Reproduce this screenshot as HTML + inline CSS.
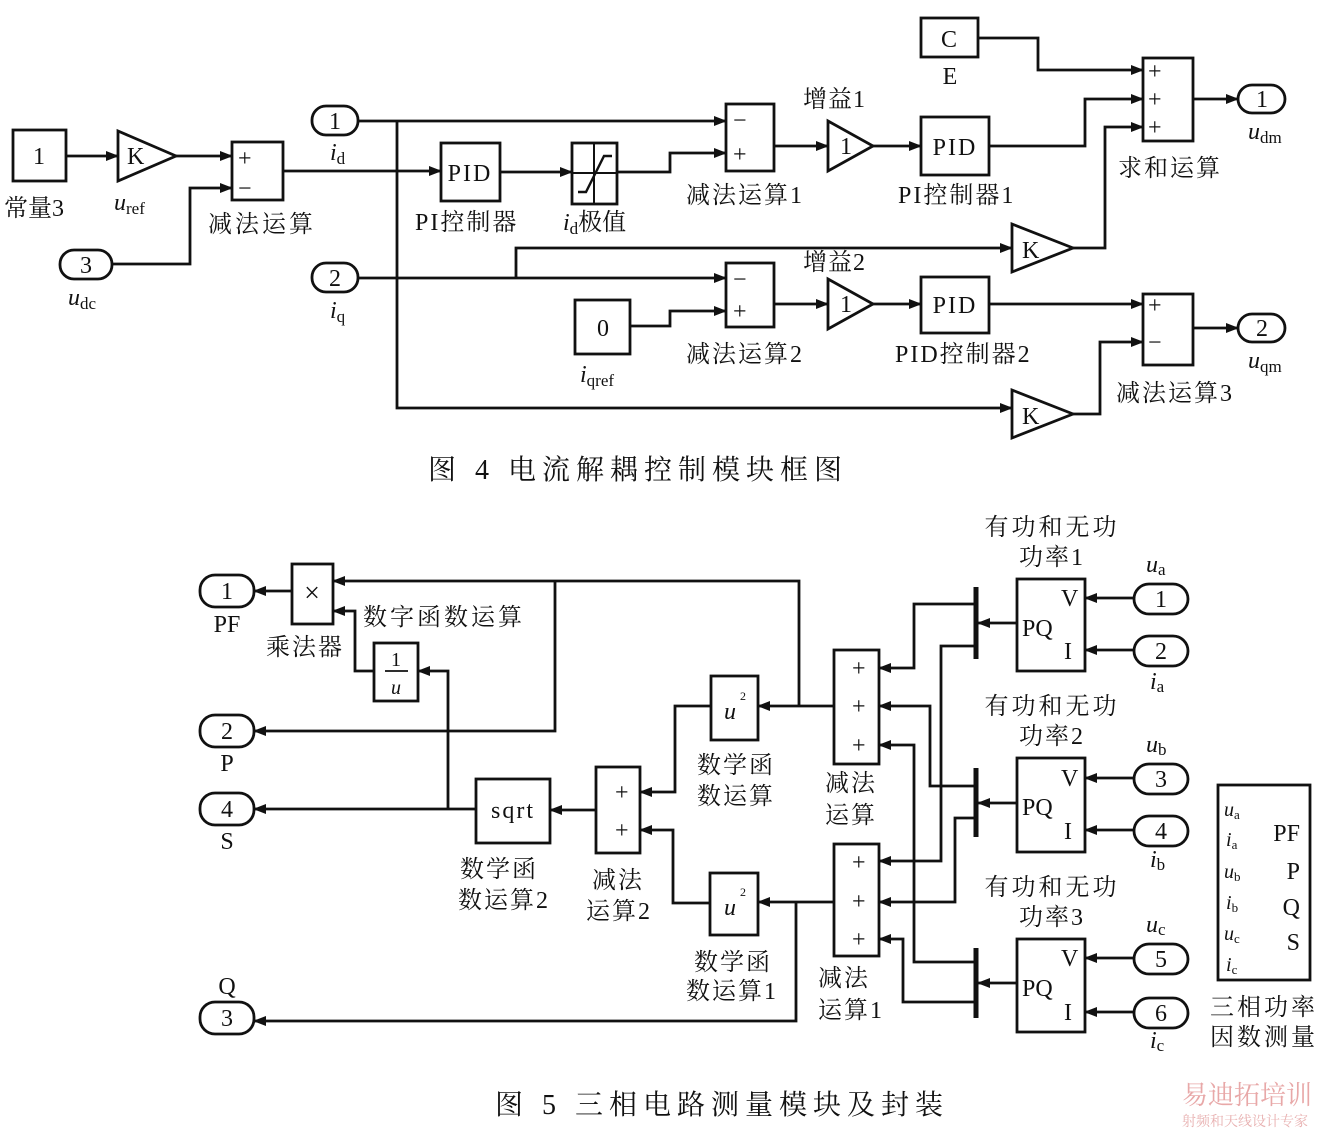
<!DOCTYPE html>
<html><head><meta charset="utf-8"><style>
html,body{margin:0;padding:0;background:#fff;}
svg{display:block;}
text{font-family:"Liberation Serif","Noto Serif CJK SC",serif;fill:#111;}
.c{font-family:"Liberation Serif","Noto Serif CJK SC",serif;font-size:24px;}
</style></head><body>
<svg width="1334" height="1132" viewBox="0 0 1334 1132" xmlns="http://www.w3.org/2000/svg">
<defs>
<marker id="a" markerUnits="userSpaceOnUse" markerWidth="13" markerHeight="10" refX="12" refY="5" orient="auto"><path d="M0,0 L13,5 L0,10 z" fill="#111"/></marker>
</defs>
<g fill="none" stroke="#111" stroke-width="2.8">
<rect x="13" y="130" width="53" height="51"/>
<path d="M118,131 L176,156 L118,181 z"/>
<rect x="232" y="142" width="51" height="58"/>
<rect x="60" y="250" width="52" height="29" rx="14"/>
<rect x="312" y="106" width="46" height="29" rx="14"/>
<rect x="312" y="263" width="46" height="29" rx="14"/>
<rect x="441" y="143" width="59" height="58"/>
<rect x="572" y="143" width="45" height="61"/>
<path d="M594,143 V204 M572,173 H617" stroke-width="2"/>
<path d="M578,192 H586 L604,156 H612" stroke-width="2.4"/>
<rect x="726" y="104" width="48" height="67"/>
<path d="M828,121 L873,146 L828,171 z"/>
<rect x="921" y="117" width="68" height="58"/>
<rect x="921" y="18" width="57" height="39"/>
<rect x="1143" y="58" width="50" height="83"/>
<rect x="1238" y="85" width="47" height="28" rx="14"/>
<path d="M1012,224 L1073,248 L1012,272 z"/>
<rect x="726" y="263" width="48" height="64"/>
<rect x="575" y="300" width="55" height="54"/>
<path d="M828,279 L873,304 L828,329 z"/>
<rect x="921" y="277" width="68" height="56"/>
<rect x="1143" y="294" width="50" height="71"/>
<rect x="1238" y="314" width="47" height="28" rx="14"/>
<path d="M1012,390 L1073,414 L1012,438 z"/>
<path marker-end="url(#a)" d="M66,156 H118"/>
<path marker-end="url(#a)" d="M176,156 H232"/>
<path marker-end="url(#a)" d="M112,264 H190 V188 H232"/>
<path marker-end="url(#a)" d="M283,171 H441"/>
<path marker-end="url(#a)" d="M358,121 H726"/>
<path marker-end="url(#a)" d="M397,121 V408 H1012"/>
<path marker-end="url(#a)" d="M358,278 H726"/>
<path marker-end="url(#a)" d="M516,278 V248 H1012"/>
<path marker-end="url(#a)" d="M500,172 H572"/>
<path marker-end="url(#a)" d="M617,172 H670 V153 H726"/>
<path marker-end="url(#a)" d="M774,146 H828"/>
<path marker-end="url(#a)" d="M873,146 H921"/>
<path marker-end="url(#a)" d="M989,146 H1085 V99 H1143"/>
<path marker-end="url(#a)" d="M978,38 H1038 V70 H1143"/>
<path marker-end="url(#a)" d="M1073,248 H1105 V127 H1143"/>
<path marker-end="url(#a)" d="M1193,99 H1238"/>
<path marker-end="url(#a)" d="M630,326 H670 V311 H726"/>
<path marker-end="url(#a)" d="M774,304 H828"/>
<path marker-end="url(#a)" d="M873,304 H921"/>
<path marker-end="url(#a)" d="M989,304 H1143"/>
<path marker-end="url(#a)" d="M1073,414 H1100 V342 H1143"/>
<path marker-end="url(#a)" d="M1193,328 H1238"/>

<rect x="200" y="575" width="54" height="32" rx="15"/>
<rect x="200" y="715" width="54" height="32" rx="15"/>
<rect x="200" y="793" width="54" height="32" rx="15"/>
<rect x="200" y="1002" width="54" height="32" rx="15"/>
<rect x="292" y="564" width="41" height="60"/>
<rect x="374" y="643" width="44" height="58"/>
<path d="M385,671 H408" stroke-width="1.8"/>
<rect x="476" y="779" width="74" height="64"/>
<rect x="596" y="767" width="44" height="86"/>
<rect x="711" y="676" width="47" height="64"/>
<rect x="710" y="873" width="48" height="62"/>
<rect x="834" y="650" width="45" height="114"/>
<rect x="834" y="844" width="45" height="112"/>
<rect x="1017" y="579" width="68" height="92"/>
<rect x="1017" y="758" width="68" height="94"/>
<rect x="1017" y="939" width="68" height="93"/>
<rect x="1134" y="584" width="54" height="30" rx="15"/>
<rect x="1134" y="636" width="54" height="30" rx="15"/>
<rect x="1134" y="764" width="54" height="30" rx="15"/>
<rect x="1134" y="816" width="54" height="30" rx="15"/>
<rect x="1134" y="944" width="54" height="30" rx="15"/>
<rect x="1134" y="998" width="54" height="30" rx="15"/>
<rect x="1218" y="785" width="92" height="195"/>
<path d="M976,587 V659 M976,768 V837 M976,948 V1018" stroke-width="5"/>
<path marker-end="url(#a)" d="M292,591 H254"/>
<path marker-end="url(#a)" d="M799,706 V581 H333"/>
<path marker-end="url(#a)" d="M555,581 V731 H254"/>
<path marker-end="url(#a)" d="M374,671 H355 V611 H333"/>
<path marker-end="url(#a)" d="M448,809 V671 H418"/>
<path marker-end="url(#a)" d="M476,809 H254"/>
<path marker-end="url(#a)" d="M596,810 H550"/>
<path marker-end="url(#a)" d="M711,706 H675 V792 H640"/>
<path marker-end="url(#a)" d="M710,903 H673 V830 H640"/>
<path marker-end="url(#a)" d="M834,706 H758"/>
<path marker-end="url(#a)" d="M834,902 H758"/>
<path marker-end="url(#a)" d="M796,903 V1021 H254"/>
<path marker-end="url(#a)" d="M974,604 H914 V668 H879"/>
<path marker-end="url(#a)" d="M974,646 H941 V861 H879"/>
<path marker-end="url(#a)" d="M974,786 H930 V706 H879"/>
<path marker-end="url(#a)" d="M974,818 H955 V902 H879"/>
<path marker-end="url(#a)" d="M974,962 H914 V745 H879"/>
<path marker-end="url(#a)" d="M974,1002 H903 V939 H879"/>
<path marker-end="url(#a)" d="M1017,623 H978"/>
<path marker-end="url(#a)" d="M1017,803 H978"/>
<path marker-end="url(#a)" d="M1017,983 H978"/>
<path marker-end="url(#a)" d="M1134,598 H1085"/>
<path marker-end="url(#a)" d="M1134,650 H1085"/>
<path marker-end="url(#a)" d="M1134,778 H1085"/>
<path marker-end="url(#a)" d="M1134,830 H1085"/>
<path marker-end="url(#a)" d="M1134,958 H1085"/>
<path marker-end="url(#a)" d="M1134,1012 H1085"/>
</g>

<g class="c" font-size="24">
<text x="39" y="164" text-anchor="middle">1</text>
<text x="4" y="216">常量3</text>
<text x="127" y="164">K</text>
<text x="114" y="210" font-style="italic">u<tspan font-style="normal" font-size="17" dy="4">ref</tspan></text>
<text x="238" y="166" font-size="24">+</text>
<text x="238" y="196" font-size="24">−</text>
<text x="208" y="232" letter-spacing="3">减法运算</text>
<text x="86" y="273" text-anchor="middle">3</text>
<text x="68" y="305" font-style="italic">u<tspan font-style="normal" font-size="17" dy="4">dc</tspan></text>
<text x="335" y="129" text-anchor="middle">1</text>
<text x="330" y="160" font-style="italic">i<tspan font-style="normal" font-size="17" dy="4">d</tspan></text>
<text x="335" y="286" text-anchor="middle">2</text>
<text x="330" y="318" font-style="italic">i<tspan font-style="normal" font-size="17" dy="4">q</tspan></text>
<text x="470" y="181" text-anchor="middle" letter-spacing="2">PID</text>
<text x="415" y="230" letter-spacing="2">PI控制器</text>
<text x="563" y="230" font-style="italic">i<tspan font-style="normal" font-size="17" dy="4">d</tspan><tspan dy="-4" font-style="normal">极值</tspan></text>
<text x="733" y="128" font-size="24">−</text>
<text x="733" y="162" font-size="24">+</text>
<text x="686" y="203" letter-spacing="2">减法运算1</text>
<text x="803" y="107" letter-spacing="1">增益1</text>
<text x="846" y="154" text-anchor="middle">1</text>
<text x="955" y="155" text-anchor="middle" letter-spacing="2">PID</text>
<text x="898" y="203" letter-spacing="2">PI控制器1</text>
<text x="949" y="47" text-anchor="middle">C</text>
<text x="950" y="84" text-anchor="middle">E</text>
<text x="1148" y="79" font-size="24">+</text>
<text x="1148" y="107" font-size="24">+</text>
<text x="1148" y="135" font-size="24">+</text>
<text x="1118" y="176" letter-spacing="2">求和运算</text>
<text x="1262" y="107" text-anchor="middle">1</text>
<text x="1248" y="139" font-style="italic">u<tspan font-style="normal" font-size="17" dy="4">dm</tspan></text>
<text x="1022" y="258">K</text>
<text x="733" y="287" font-size="24">−</text>
<text x="733" y="319" font-size="24">+</text>
<text x="686" y="362" letter-spacing="2">减法运算2</text>
<text x="603" y="336" text-anchor="middle">0</text>
<text x="580" y="382" font-style="italic">i<tspan font-style="normal" font-size="17" dy="4">qref</tspan></text>
<text x="803" y="270" letter-spacing="1">增益2</text>
<text x="846" y="312" text-anchor="middle">1</text>
<text x="955" y="313" text-anchor="middle" letter-spacing="2">PID</text>
<text x="895" y="362" letter-spacing="2">PID控制器2</text>
<text x="1148" y="313" font-size="24">+</text>
<text x="1148" y="350" font-size="24">−</text>
<text x="1262" y="336" text-anchor="middle">2</text>
<text x="1248" y="368" font-style="italic">u<tspan font-style="normal" font-size="17" dy="4">qm</tspan></text>
<text x="1022" y="424">K</text>
<text x="1116" y="401" letter-spacing="2">减法运算3</text>
<text x="428" y="479" font-size="28" letter-spacing="6">图 4  电流解耦控制模块框图</text>

<text x="227" y="599" text-anchor="middle">1</text>
<text x="227" y="632" text-anchor="middle">PF</text>
<text x="227" y="739" text-anchor="middle">2</text>
<text x="227" y="771" text-anchor="middle">P</text>
<text x="227" y="817" text-anchor="middle">4</text>
<text x="227" y="849" text-anchor="middle">S</text>
<text x="227" y="1026" text-anchor="middle">3</text>
<text x="227" y="994" text-anchor="middle">Q</text>
<text x="312" y="602" text-anchor="middle" font-size="28">×</text>
<text x="266" y="655" letter-spacing="2">乘法器</text>
<text x="363" y="625" letter-spacing="3">数字函数运算</text>
<text x="396" y="666" text-anchor="middle" font-size="20">1</text>
<text x="396" y="694" text-anchor="middle" font-style="italic" font-size="20">u</text>
<text x="513" y="818" text-anchor="middle" letter-spacing="2">sqrt</text>
<text x="460" y="877" letter-spacing="2">数学函</text>
<text x="458" y="908" letter-spacing="2">数运算2</text>
<text x="615" y="800" font-size="24">+</text>
<text x="615" y="838" font-size="24">+</text>
<text x="592" y="888" letter-spacing="2">减法</text>
<text x="586" y="919" letter-spacing="2">运算2</text>
<text x="724" y="719" font-style="italic">u</text><text x="740" y="700" font-size="12">2</text>
<text x="724" y="915" font-style="italic">u</text><text x="740" y="896" font-size="12">2</text>
<text x="697" y="773" letter-spacing="2">数学函</text>
<text x="697" y="804" letter-spacing="2">数运算</text>
<text x="694" y="970" letter-spacing="2">数学函</text>
<text x="686" y="999" letter-spacing="2">数运算1</text>
<text x="852" y="676" font-size="24">+</text>
<text x="852" y="714" font-size="24">+</text>
<text x="852" y="753" font-size="24">+</text>
<text x="825" y="791" letter-spacing="2">减法</text>
<text x="825" y="823" letter-spacing="2">运算</text>
<text x="852" y="870" font-size="24">+</text>
<text x="852" y="909" font-size="24">+</text>
<text x="852" y="947" font-size="24">+</text>
<text x="818" y="986" letter-spacing="2">减法</text>
<text x="818" y="1018" letter-spacing="2">运算1</text>
<text x="1022" y="636">PQ</text><text x="1061" y="606">V</text><text x="1064" y="659">I</text>
<text x="1022" y="815">PQ</text><text x="1061" y="786">V</text><text x="1064" y="839">I</text>
<text x="1022" y="996">PQ</text><text x="1061" y="966">V</text><text x="1064" y="1020">I</text>
<text x="1052" y="535" text-anchor="middle" letter-spacing="3">有功和无功</text>
<text x="1052" y="565" text-anchor="middle" letter-spacing="2">功率1</text>
<text x="1052" y="714" text-anchor="middle" letter-spacing="3">有功和无功</text>
<text x="1052" y="744" text-anchor="middle" letter-spacing="2">功率2</text>
<text x="1052" y="895" text-anchor="middle" letter-spacing="3">有功和无功</text>
<text x="1052" y="925" text-anchor="middle" letter-spacing="2">功率3</text>
<text x="1161" y="607" text-anchor="middle">1</text>
<text x="1161" y="659" text-anchor="middle">2</text>
<text x="1161" y="787" text-anchor="middle">3</text>
<text x="1161" y="839" text-anchor="middle">4</text>
<text x="1161" y="967" text-anchor="middle">5</text>
<text x="1161" y="1021" text-anchor="middle">6</text>
<text x="1146" y="572" font-style="italic">u<tspan font-style="normal" font-size="17" dy="3">a</tspan></text>
<text x="1150" y="689" font-style="italic">i<tspan font-style="normal" font-size="17" dy="3">a</tspan></text>
<text x="1146" y="752" font-style="italic">u<tspan font-style="normal" font-size="17" dy="3">b</tspan></text>
<text x="1150" y="867" font-style="italic">i<tspan font-style="normal" font-size="17" dy="3">b</tspan></text>
<text x="1146" y="932" font-style="italic">u<tspan font-style="normal" font-size="17" dy="3">c</tspan></text>
<text x="1150" y="1048" font-style="italic">i<tspan font-style="normal" font-size="17" dy="3">c</tspan></text>
<g font-size="20" font-style="italic">
<text x="1224" y="816">u<tspan font-style="normal" font-size="13" dy="3">a</tspan></text>
<text x="1226" y="846">i<tspan font-style="normal" font-size="13" dy="3">a</tspan></text>
<text x="1224" y="878">u<tspan font-style="normal" font-size="13" dy="3">b</tspan></text>
<text x="1226" y="909">i<tspan font-style="normal" font-size="13" dy="3">b</tspan></text>
<text x="1224" y="940">u<tspan font-style="normal" font-size="13" dy="3">c</tspan></text>
<text x="1226" y="971">i<tspan font-style="normal" font-size="13" dy="3">c</tspan></text>
</g>
<text x="1300" y="841" text-anchor="end">PF</text>
<text x="1300" y="879" text-anchor="end">P</text>
<text x="1300" y="915" text-anchor="end">Q</text>
<text x="1300" y="950" text-anchor="end">S</text>
<text x="1210" y="1015" letter-spacing="3">三相功率</text>
<text x="1210" y="1045" letter-spacing="3">因数测量</text>
<text x="495" y="1114" font-size="28" letter-spacing="6">图 5  三相电路测量模块及封装</text>
<text x="1182" y="1104" font-size="26" style="fill:#e8a8a8">易迪拓培训</text>
<text x="1182" y="1126" font-size="14" style="fill:#e8b0b0">射频和天线设计专家</text>
</g>
</svg>
</body></html>
